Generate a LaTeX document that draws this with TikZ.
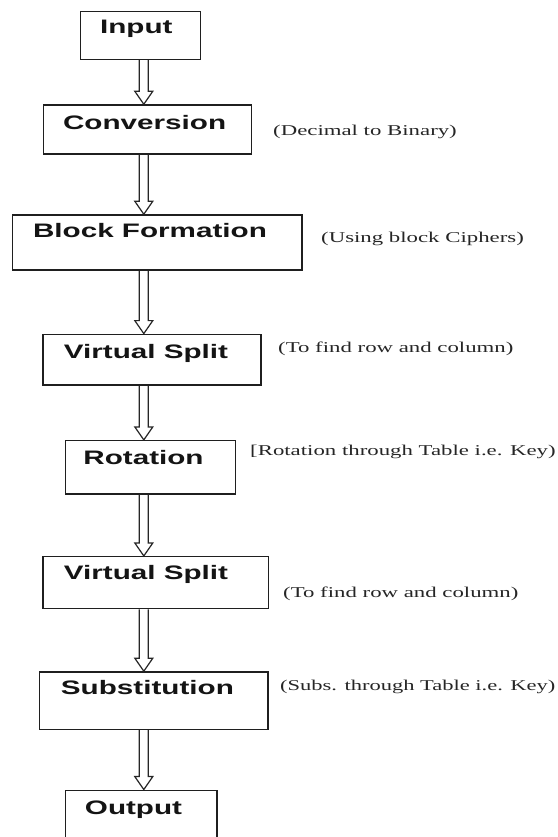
\documentclass[tikz,border=0pt]{standalone}
\usepackage{fontspec}
\setmainfont{Liberation Serif}
\setsansfont{Liberation Sans}
\usetikzlibrary{calc}
\newcommand\widetext[2][1.52]{\scalebox{#1}[1]{#2}}
\tikzset{
  box/.style={draw=black!88, line width=1.5pt, rectangle, inner sep=0pt},
  lbl/.style={inner sep=0pt, anchor=base, text=black!92, font=\sffamily\bfseries\fontsize{19.5}{22}\selectfont},
  note/.style={inner sep=0pt, anchor=base west, text=black!85, font=\rmfamily\fontsize{15}{17}\selectfont},
  arrline/.style={draw=black!85, line width=1.2pt, line join=miter},
}
\newcommand\flowarrow[2]{%
  \path (#1.south -| axis) coordinate (#1-s) (#2.north -| axis) coordinate (#2-t);
  \draw[arrline] ($(#1-s)+(-4.5,0)$) -- ($(#2-t)+(-4.5,-13)$) -- ($(#2-t)+(-9,-13)$) -- (#2-t)
    -- ($(#2-t)+(9,-13)$) -- ($(#2-t)+(4.5,-13)$) -- ($(#1-s)+(4.5,0)$);
}
\begin{document}
\begin{tikzpicture}[x=1pt,y=-1pt]
  \fill[white] (0,0) rectangle (557,837);
  \clip (0,0) rectangle (557,837);
  \coordinate (axis) at (143.8,0);

  % boxes
  \node[box, minimum width=120.3pt, minimum height=47.6pt] (input) at (140.5,35.5) {};
  \node[box, minimum width=208pt,   minimum height=49pt]   (conv)  at (147.5,129.5) {};
  \node[box, minimum width=289.6pt, minimum height=55pt]   (bf)    at (157.2,242.5) {};
  \node[box, minimum width=218pt,   minimum height=50.7pt] (vsa)   at (152,359.7) {};
  \node[box, minimum width=170.3pt, minimum height=53.3pt] (rot)   at (150.5,467.3) {};
  \node[box, minimum width=225.6pt, minimum height=52pt]   (vsb)   at (155.8,582.7) {};
  \node[box, minimum width=228.9pt, minimum height=57.3pt] (sub)   at (153.7,700.6) {};
  \node[box, minimum width=151.6pt, minimum height=70pt]   (out)   at (141.2,825.3) {};

  % box labels
  \node[lbl] (tinput) at (136.3,33.5)  {\widetext{Input}};
  \node[lbl] (tconv)  at (144.6,130)   {\widetext{Conversion}};
  \node[lbl] (tbf)    at (150,237.5)   {\widetext{Block Formation}};
  \node[lbl] (tvsa)   at (146,358)     {\widetext{Virtual Split}};
  \node[lbl] (trot)   at (143.5,464)   {\widetext{Rotation}};
  \node[lbl] (tvsb)   at (146,579)     {\widetext{Virtual Split}};
  \node[lbl] (tsub)   at (147.4,694.5) {\widetext{Substitution}};
  \node[lbl] (tout)   at (133.5,814)   {\widetext{Output}};

  % annotations
  \node[note] (ndec)  at (273,135.5)   {\widetext{(Decimal to Binary)}};
  \node[note] (nuse)  at (321,242)     {\widetext{(Using block Ciphers)}};
  \node[note] (nfa)   at (278,352)     {\widetext{(To find row and column)}};
  \node[note] (nrot)  at (250,455)     {\widetext{[Rotation through Table i.e. Key)}};
  \node[note] (nfb)   at (283,597.5)   {\widetext{(To find row and column)}};
  \node[note] (nsub)  at (280,690)     {\widetext[1.5]{(Subs. through Table i.e. Key)}};

  % connectors
  \flowarrow{input}{conv}
  \flowarrow{conv}{bf}
  \flowarrow{bf}{vsa}
  \flowarrow{vsa}{rot}
  \flowarrow{rot}{vsb}
  \flowarrow{vsb}{sub}
  \flowarrow{sub}{out}
\end{tikzpicture}
\end{document}
